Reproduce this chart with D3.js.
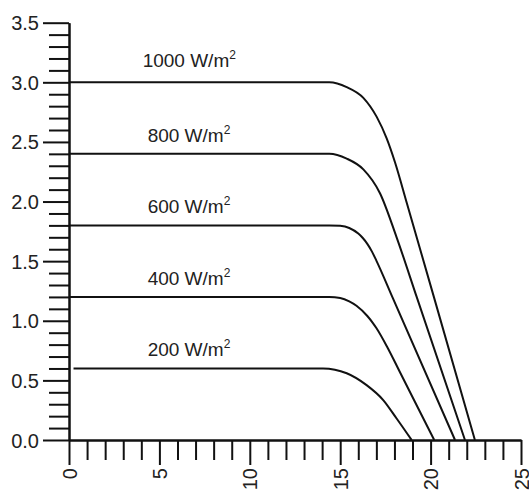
<!DOCTYPE html>
<html><head><meta charset="utf-8">
<script src="https://cdn.jsdelivr.net/npm/d3@7"></script>
<style>
html,body{margin:0;padding:0;background:#fff;}
svg{display:block;}
text{font-family:"Liberation Sans",Arial,sans-serif;fill:#222;}
</style></head>
<body><svg id="c" width="529" height="493"></svg>
<script>
// ---- data ----
const irradiance = [1000, 800, 600, 400, 200];
const voltage1000 = [0, 14.4, 15.36, 16.28, 17.02, 17.57, 18.03, 18.68, 20.2, 22.45];
const current1000 = [3.0, 3.0, 2.96, 2.87, 2.71, 2.53, 2.33, 1.99, 1.19, 0];
const voltage800 = [0, 14.4, 15.36, 16.28, 17.2, 18.12, 19.23, 21.9];
const current800 = [2.4, 2.4, 2.36, 2.27, 2.07, 1.70, 1.20, 0];
const voltage600 = [0, 14.4, 15.0, 15.5, 16.0, 16.25, 16.5, 16.75, 17.0, 17.9, 21.35];
const current600 = [1.8, 1.8, 1.796, 1.778, 1.731, 1.694, 1.645, 1.582, 1.505, 1.194, 0];
const voltage400 = [0, 14.4, 15.0, 15.5, 15.9, 16.5, 16.8, 17.0, 17.6, 18.3, 19.04, 20.2];
const current400 = [1.2, 1.2, 1.191, 1.163, 1.126, 1.04, 0.983, 0.939, 0.78, 0.57, 0.348, 0];
const voltage200 = [0.25, 14.05, 15.36, 16.46, 17.38, 18.12, 18.95];
const current200 = [0.6, 0.6, 0.56, 0.46, 0.335, 0.18, 0];
const yMajorTicks = [0, 0.5, 1.0, 1.5, 2.0, 2.5, 3.0, 3.5];
const xMajorTicks = [0, 5, 10, 15, 20, 25];
const labelVoltage = 4.35;

const series = [
  {g: irradiance[0], v: voltage1000, i: current1000},
  {g: irradiance[1], v: voltage800, i: current800},
  {g: irradiance[2], v: voltage600, i: current600},
  {g: irradiance[3], v: voltage400, i: current400},
  {g: irradiance[4], v: voltage200, i: current200}
];

const svg = d3.select("#c");
const x = d3.scaleLinear().domain([0, 25]).range([69, 521]);
const y = d3.scaleLinear().domain([0, 3.5]).range([440, 22.7]);

const yMinor = d3.range(0, 36).map(d => d / 10).filter(d => !yMajorTicks.some(m => Math.abs(m - d) < 1e-6));
const xMinor = d3.range(0, 26).filter(d => !xMajorTicks.includes(d));

function styleAxis(g) {
  g.selectAll("path,line").attr("stroke", "#111").attr("stroke-width", 2);
  g.selectAll("text").attr("fill", "#2a2a2a").style("font-family", '"Liberation Sans",Arial,sans-serif');
}

// y axis minor
svg.append("g").attr("transform", "translate(69,0)")
  .call(d3.axisLeft(y).tickValues(yMinor).tickSize(20).tickSizeOuter(0).tickFormat(""))
  .call(styleAxis);
// y axis major
svg.append("g").attr("transform", "translate(69,0)")
  .call(d3.axisLeft(y).tickValues(yMajorTicks).tickSize(26).tickSizeOuter(0).tickPadding(4).tickFormat(d3.format(".1f")))
  .call(styleAxis)
  .call(g => g.selectAll("text").style("font-size", "20px").attr("dy", "0.35em"));

// x axis minor
svg.append("g").attr("transform", "translate(0,440)")
  .call(d3.axisBottom(x).tickValues(xMinor).tickSize(20).tickSizeOuter(0).tickFormat(""))
  .call(styleAxis);
// x axis major
svg.append("g").attr("transform", "translate(0,440)")
  .call(d3.axisBottom(x).tickValues(xMajorTicks).tickSize(25).tickSizeOuter(0).tickFormat(d3.format("d")))
  .call(styleAxis)
  .call(g => g.selectAll("text")
    .style("font-size", "20px")
    .attr("text-anchor", "end")
    .attr("transform", "rotate(-90)")
    .attr("x", -28).attr("y", 0).attr("dy", "0.35em"));

// curves
const line = d3.line().x(d => x(d[0])).y(d => y(d[1])).curve(d3.curveMonotoneX);
series.forEach(s => {
  const pts = s.v.map((v, k) => [v, s.i[k]]);
  svg.append("path").datum(pts)
    .attr("d", line)
    .attr("fill", "none")
    .attr("stroke", "#111")
    .attr("stroke-width", 2);
  const t = svg.append("text")
    .attr("x", x(labelVoltage) - (s.g >= 1000 ? 5 : 0))
    .attr("y", y(s.i[0]) - (s.g >= 1000 ? 15 : 12))
    .style("font-size", "19px");
  t.append("tspan").text(s.g + " W/m");
  t.append("tspan").text("2").style("font-size", "12px").attr("dy", -8);
});
</script>
</body></html>
